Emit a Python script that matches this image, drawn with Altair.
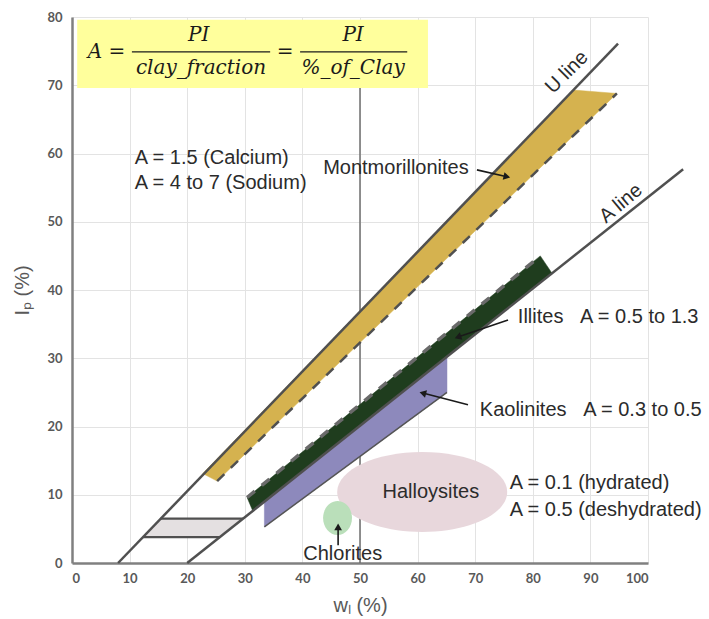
import altair as alt
import pandas as pd

# ---------------- data ----------------
X_TICKS = list(range(0, 101, 10))
Y_TICKS = list(range(0, 81, 10))

# reference lines (liquid limit wL, plasticity index Ip)
u_wl = [8.0, 94.8]
u_ip = [0.0, 76.1]
a_wl = [20.0, 106.1]
a_ip = [0.0, 57.7]
v50_wl = [50.0]
v50_ip = [0.0]
v50_ip2 = [69.6]

# clay mineral zones (polygon vertices)
mont_wl = [22.7, 87.0, 94.6, 25.2]
mont_ip = [13.1, 69.3, 68.8, 12.0]
illi_wl = [30.4, 81.3, 83.3, 31.4]
illi_ip = [9.6, 45.0, 42.5, 7.6]
kaol_wl = [33.4, 65.1, 65.1, 33.4]
kaol_ip = [9.0, 30.2, 25.0, 5.3]
gray_wl = [15.4, 29.7, 25.7, 12.3]
gray_ip = [6.5, 6.5, 3.8, 3.8]

# zone edges
mont_dash_wl = [25.2, 94.6]
mont_dash_ip = [12.0, 68.8]
illi_dash_wl = [30.4, 81.3]
illi_dash_ip = [9.6, 45.0]
kaol_edge_wl = [33.4, 65.1]
kaol_edge_ip = [5.3, 25.0]
gray_top_wl = [15.4, 29.7]
gray_top_ip = [6.5, 6.5]
gray_bot_wl = [12.3, 25.7]
gray_bot_ip = [3.8, 3.8]

# ellipses (centres)
hall_wl, hall_ip = [60.8], [10.4]
chlo_wl, chlo_ip = [46.1], [6.6]

# formula box
box_wl, box_wl2 = [0.9], [61.8]
box_ip, box_ip2 = [69.6], [79.6]
formula_labels = ["A =", "PI", "clay_fraction", "=", "PI", "%_of_Clay"]
formula_wl = [6.0, 22.0, 22.4, 37.0, 48.8, 48.8]
formula_ip = [74.8, 77.4, 72.6, 74.8, 77.4, 72.6]
bar_wl = [10.4, 39.6]
bar_wl2 = [34.4, 58.2]
bar_ip = [74.9, 74.9]

# annotations
NB = "\u00a0"
left_labels = ["A = 1.5 (Calcium)", "A = 4 to 7 (Sodium)", "Montmorillonites",
               "Illites" + NB * 3 + "A = 0.5 to 1.3", "Kaolinites" + NB * 3 + "A = 0.3 to 0.5",
               "A = 0.1 (hydrated)", "A = 0.5 (deshydrated)"]
left_wl = [10.9, 10.9, 43.6, 77.4, 70.8, 76.0, 76.0]
left_ip = [59.3, 55.7, 57.9, 36.0, 22.4, 11.7, 7.8]
center_labels = ["Halloysites", "Chlorites"]
center_wl = [62.3, 47.0]
center_ip = [10.4, 1.3]
line_labels = ["U line", "A line"]
line_lab_wl = [85.9, 95.3]
line_lab_ip = [71.9, 52.7]
line_lab_angle = [315, 320]

# arrows
arr_wl1 = [70.3, 75.7, 68.75, 46.2]
arr_ip1 = [57.6, 35.6, 23.2, 2.6]
arr_wl2 = [75.5, 67.0, 60.9, 46.2]
arr_ip2 = [56.6, 33.1, 24.9, 5.3]
arr_angle = [13, 161, 195, 270]

# ---------------- axes & helpers ----------------
LABEL_FONT = "Liberation Sans"
TXT = "#2b2b2b"

XS = alt.Scale(domain=[0, 100], nice=False, zero=False)
YS = alt.Scale(domain=[0, 80], nice=False, zero=False)

X_AXIS = alt.Axis(values=X_TICKS, title="wₗ (%)", grid=True, gridColor="#E3E3E3", gridWidth=1,
                  ticks=False, domainColor="#808080", domainWidth=2.5,
                  labelFont="Lato", labelFontWeight="bold", labelFontSize=13, labelColor="#595959",
                  labelPadding=9, titleFont=LABEL_FONT, titleFontSize=20, titleFontWeight="normal",
                  titleColor="#595959", titleX=288, titleY=42, titleBaseline="middle")
Y_AXIS = alt.Axis(values=Y_TICKS, title="Iₚ (%)", grid=True, gridColor="#E3E3E3", gridWidth=1,
                  ticks=False, domainColor="#808080", domainWidth=2.5,
                  labelFont="Lato", labelFontWeight="bold", labelFontSize=13, labelColor="#595959",
                  labelPadding=10, titleFont=LABEL_FONT, titleFontSize=20, titleFontWeight="normal",
                  titleColor="#595959", titleX=-50, titleY=273, titleAngle=270, titleBaseline="middle")


def X(f="x"):
    return alt.X(f"{f}:Q", scale=XS, axis=X_AXIS)


def Y(f="y"):
    return alt.Y(f"{f}:Q", scale=YS, axis=Y_AXIS)


def poly(wl, ip, fill):
    df = pd.DataFrame({"x": wl + wl[:1], "y": ip + ip[:1], "o": list(range(len(wl) + 1))})
    return alt.Chart(df).mark_line(fill=fill, stroke=fill, strokeWidth=0.5, interpolate="linear").encode(
        x=X(), y=Y(), order="o:Q")


def seg(wl, ip, color, width, dash=None):
    df = pd.DataFrame({"x": wl, "y": ip, "o": list(range(len(wl)))})
    kw = dict(color=color, strokeWidth=width)
    if dash:
        kw["strokeDash"] = dash
    return alt.Chart(df).mark_line(**kw).encode(x=X(), y=Y(), order="o:Q")


# ---------------- layers ----------------
box = alt.Chart(pd.DataFrame({"x": box_wl, "x2": box_wl2, "y": box_ip, "y2": box_ip2})).mark_rect(
    color="#FFFF9C").encode(x=X(), x2="x2:Q", y=Y(), y2="y2:Q")

v50 = alt.Chart(pd.DataFrame({"x": v50_wl, "y": v50_ip, "y2": v50_ip2})).mark_rule(
    color="#6E6E6E", strokeWidth=1.5).encode(x=X(), y=Y(), y2="y2:Q")

gray_poly = poly(gray_wl, gray_ip, "#E4E0E1")
mont_poly = poly(mont_wl, mont_ip, "#D5B24F")
illi_poly = poly(illi_wl, illi_ip, "#1F3D1E")
kaol_poly = poly(kaol_wl, kaol_ip, "#8D89BC")

mont_dash = seg(mont_dash_wl, mont_dash_ip, "#505050", 2.5, [10, 9])
illi_dash = seg(illi_dash_wl, illi_dash_ip, "#6A6A6A", 3.5, [10, 9])
kaol_edge = seg(kaol_edge_wl, kaol_edge_ip, "#555555", 1.5)
gray_top = seg(gray_top_wl, gray_top_ip, "#505050", 2.2)
gray_bot = seg(gray_bot_wl, gray_bot_ip, "#505050", 2.2)
u_line = seg(u_wl, u_ip, "#505050", 2.5)
a_line = seg(a_wl, a_ip, "#505050", 2.5)

hall = alt.Chart(pd.DataFrame({"x": hall_wl, "y": hall_ip})).mark_point(
    shape="M -1 0 A 1 0.47 0 1 1 1 0 A 1 0.47 0 1 1 -1 0 Z",
    size=28900, filled=True, fill="#E8D7DC", opacity=1, strokeWidth=0).encode(x=X(), y=Y())
chlo = alt.Chart(pd.DataFrame({"x": chlo_wl, "y": chlo_ip})).mark_point(
    shape="M -0.85 0 A 0.85 1 0 1 1 0.85 0 A 0.85 1 0 1 1 -0.85 0 Z",
    size=1156, filled=True, fill="#BADFBA", opacity=1, strokeWidth=0).encode(x=X(), y=Y())

formula_df = pd.DataFrame({"x": formula_wl, "y": formula_ip, "t": formula_labels})
formula = alt.Chart(formula_df).mark_text(
    font="DejaVu Serif", fontStyle="italic", fontSize=20, color="#1a1a1a",
    align="center", baseline="middle").encode(x=X(), y=Y(), text="t:N")
bars = alt.Chart(pd.DataFrame({"x": bar_wl, "x2": bar_wl2, "y": bar_ip})).mark_rule(
    color="#1a1a1a", strokeWidth=1.3).encode(x=X(), x2="x2:Q", y=Y())

arr_df = pd.DataFrame({"x": arr_wl1, "y": arr_ip1, "x2": arr_wl2, "y2": arr_ip2, "a": arr_angle})
shafts = alt.Chart(arr_df).mark_rule(color="#1a1a1a", strokeWidth=1.6).encode(
    x=X(), y=Y(), x2="x2:Q", y2="y2:Q")
heads = alt.Chart(arr_df).mark_point(shape="triangle-right", filled=True, size=60,
                                     color="#1a1a1a", opacity=1).encode(
    x=X("x2"), y=Y("y2"), angle=alt.Angle("a:Q", scale=None))

left_txt = alt.Chart(pd.DataFrame({"x": left_wl, "y": left_ip, "t": left_labels})).mark_text(
    font=LABEL_FONT, fontSize=20, color=TXT, align="left", baseline="middle").encode(
    x=X(), y=Y(), text="t:N")
center_txt = alt.Chart(pd.DataFrame({"x": center_wl, "y": center_ip, "t": center_labels})).mark_text(
    font=LABEL_FONT, fontSize=20, color=TXT, align="center", baseline="middle").encode(
    x=X(), y=Y(), text="t:N")
line_txt = alt.Chart(pd.DataFrame({"x": line_lab_wl, "y": line_lab_ip, "t": line_labels,
                                   "a": line_lab_angle})).mark_text(
    font=LABEL_FONT, fontSize=20, color=TXT, align="center", baseline="middle").encode(
    x=X(), y=Y(), text="t:N", angle=alt.Angle("a:Q", scale=None))

chart = alt.layer(
    box, v50, gray_poly, gray_top, gray_bot, mont_poly, illi_poly, kaol_poly,
    kaol_edge, mont_dash, illi_dash, u_line, a_line, hall, chlo,
    bars, formula, shafts, heads, left_txt, center_txt, line_txt
).properties(
    width=576, height=546,
    autosize=alt.AutoSizeParams(type="none"),
    padding={"left": 72, "top": 17, "right": 61, "bottom": 56},
    background="white",
).configure_view(strokeWidth=0)

chart.save("out.html", embed_options={"renderer": "svg", "actions": False})
